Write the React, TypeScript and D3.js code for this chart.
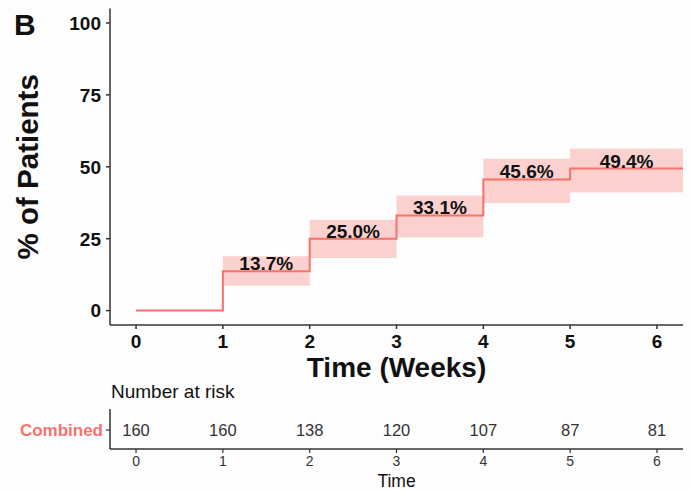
import React from 'react';
import * as d3 from 'd3';

// step data
const weeks = [0, 1, 2, 3, 4, 5, 6];
const stepStart = [0, 1, 2, 3, 4, 5];
const cumPct = [0, 13.7, 25.0, 33.1, 45.6, 49.4];
const ciLow = [0, 8.7, 18.3, 25.5, 37.4, 41.1];
const ciHigh = [0, 18.9, 31.6, 40.0, 52.8, 56.3];
const stepLabels = ['', '13.7%', '25.0%', '33.1%', '45.6%', '49.4%'];
const yTicks = [0, 25, 50, 75, 100];
const riskCounts = [160, 160, 138, 120, 107, 87, 81];

const W = 691;
const H = 491;
const font = 'Liberation Sans, Arial, Helvetica, sans-serif';
const red = '#f4736b';
const axisCol = '#333333';

export default function App() {
  const x = d3.scaleLinear().domain([-0.3, 6.3]).range([110, 683]);
  const y = d3.scaleLinear().domain([-5, 105]).range([325, 8.6]);
  const xMax = x.domain()[1];

  // build step path points
  const pts: [number, number][] = [];
  stepStart.forEach((s, i) => {
    const e = i < stepStart.length - 1 ? stepStart[i + 1] : xMax;
    pts.push([s, cumPct[i]]);
    pts.push([e, cumPct[i]]);
  });
  const line = d3.line<[number, number]>()
    .x(d => x(d[0]))
    .y(d => y(d[1]));

  const riskTop = 409;
  const riskAxisY = 449;
  const riskRowY = 430;

  return (
    <svg width={W} height={H} style={{ position: 'absolute', left: 0, top: 0, background: '#fdfdfe' }}
      fontFamily={font}>
      {/* panel letter */}
      <text x={14} y={35} fontSize={30} fontWeight="bold" fill="#111">B</text>

      {/* confidence bands */}
      {stepStart.map((s, i) => {
        if (i === 0) return null;
        const e = i < stepStart.length - 1 ? stepStart[i + 1] : xMax;
        return (
          <rect key={'ci' + i} x={x(s)} width={x(e) - x(s)}
            y={y(ciHigh[i])} height={y(ciLow[i]) - y(ciHigh[i])}
            fill="#f8766d" fillOpacity={0.32} />
        );
      })}

      {/* step line */}
      <path d={line(pts) || ''} fill="none" stroke={red} strokeWidth={2} />

      {/* step labels */}
      {stepStart.map((s, i) => {
        if (!stepLabels[i]) return null;
        const e = i < stepStart.length - 1 ? stepStart[i + 1] : xMax;
        return (
          <text key={'lb' + i} x={x((s + e) / 2)} y={y(cumPct[i]) - 1}
            textAnchor="middle" fontSize={19} fontWeight="bold" fill="#111">
            {stepLabels[i]}
          </text>
        );
      })}

      {/* axes */}
      <line x1={110} x2={110} y1={y(105)} y2={325} stroke={axisCol} strokeWidth={1.5} />
      <line x1={110} x2={683} y1={325} y2={325} stroke={axisCol} strokeWidth={1.5} />
      {yTicks.map(t => (
        <g key={'yt' + t}>
          <line x1={106} x2={110} y1={y(t)} y2={y(t)} stroke={axisCol} strokeWidth={1.5} />
          <text x={101} y={y(t)} dy="0.36em" textAnchor="end" fontSize={19} fontWeight="bold" fill="#111">{t}</text>
        </g>
      ))}
      {weeks.map(t => (
        <g key={'xt' + t}>
          <line x1={x(t)} x2={x(t)} y1={325} y2={329} stroke={axisCol} strokeWidth={1.5} />
          <text x={x(t)} y={348} textAnchor="middle" fontSize={19} fontWeight="bold" fill="#111">{t}</text>
        </g>
      ))}
      <text x={x(3)} y={377} textAnchor="middle" fontSize={28} fontWeight="bold" fill="#111">Time (Weeks)</text>
      <text transform={`translate(38,${(y(105) + 325) / 2}) rotate(-90)`} textAnchor="middle"
        fontSize={29.5} fontWeight="bold" fill="#111">% of Patients</text>

      {/* risk table */}
      <text x={111} y={398} fontSize={19} fill="#111">Number at risk</text>
      <line x1={110} x2={110} y1={riskTop} y2={riskAxisY} stroke={axisCol} strokeWidth={1.5} />
      <line x1={110} x2={683} y1={riskAxisY} y2={riskAxisY} stroke={axisCol} strokeWidth={1.5} />
      <line x1={106} x2={110} y1={riskRowY} y2={riskRowY} stroke={axisCol} strokeWidth={1.2} />
      <text x={103} y={riskRowY} dy="0.36em" textAnchor="end" fontSize={17} fontWeight="bold" fill={red}>Combined</text>
      {riskCounts.map((n, i) => (
        <text key={'rc' + i} x={x(weeks[i])} y={riskRowY} dy="0.36em" textAnchor="middle"
          fontSize={16.5} fill="#333">{n}</text>
      ))}
      {weeks.map(t => (
        <g key={'rt' + t}>
          <line x1={x(t)} x2={x(t)} y1={riskAxisY} y2={riskAxisY + 4} stroke={axisCol} strokeWidth={1.2} />
          <text x={x(t)} y={466} textAnchor="middle" fontSize={14} fill="#333">{t}</text>
        </g>
      ))}
      <text x={x(3)} y={487} textAnchor="middle" fontSize={17.5} fill="#111">Time</text>
    </svg>
  );
}
